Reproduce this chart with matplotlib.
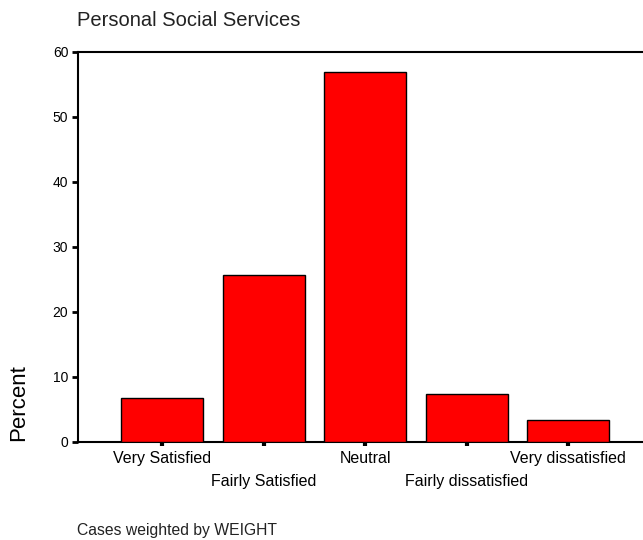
import matplotlib
matplotlib.use("Agg")
import matplotlib.pyplot as plt
import numpy as np

categories = ["Very Satisfied", "Fairly Satisfied", "Neutral", "Fairly dissatisfied", "Very dissatisfied"]
percent = [6.7, 25.6, 56.9, 7.3, 3.3]
yticks = [0, 10, 20, 30, 40, 50, 60]

plt.rcParams['font.family'] = ['Liberation Sans', 'DejaVu Sans']

W, H = 643, 540
fig = plt.figure(figsize=(W / 100, H / 100), dpi=100)
fig.patch.set_facecolor('white')

left_px, bottom_px, top_px = 78, 441.7, 51.5
step_px = 101.5
pad = 0.83
n = len(categories)
width_px = (n - 1 + 2 * pad) * step_px
ax = fig.add_axes([left_px / W, (H - bottom_px) / H, width_px / W, (bottom_px - top_px) / H])

x = np.arange(n)
ax.bar(x, percent, width=0.81, color='#FF0000', edgecolor='black', linewidth=1.0, zorder=3)

ax.set_xlim(-pad, n - 1 + pad)
ax.set_ylim(0, 60)
ax.set_yticks(yticks)
ax.set_yticklabels([str(v) for v in yticks], fontsize=10)

even = x[::2]
odd = x[1::2]
ax.set_xticks(even)
ax.set_xticklabels([categories[i] for i in even], fontsize=11.5)
ax.set_xticks(odd, minor=True)
ax.set_xticklabels([categories[i] for i in odd], minor=True, fontsize=11.5)

ax.spines['right'].set_visible(False)
for s in ['left', 'top', 'bottom']:
    ax.spines[s].set_linewidth(1.5)
    ax.spines[s].set_color('black')

ax.tick_params(axis='y', direction='out', length=4, width=2, pad=3)
ax.tick_params(axis='x', which='major', direction='out', length=3, width=3, pad=4)
ax.tick_params(axis='x', which='minor', direction='out', length=3, width=3, pad=20)

ax.set_ylabel("Percent", fontsize=16)
ax.yaxis.set_label_coords(-0.085, 0.1)

fig.text(77 / W, 1 - 20 / H, "Personal Social Services", fontsize=14.5, ha='left', va='center', color='#222222')
fig.text(77 / W, 1 - 530 / H, "Cases weighted by WEIGHT", fontsize=11.3, ha='left', va='center', color='#222222')

fig.savefig("out.png", dpi=100, facecolor='white')
